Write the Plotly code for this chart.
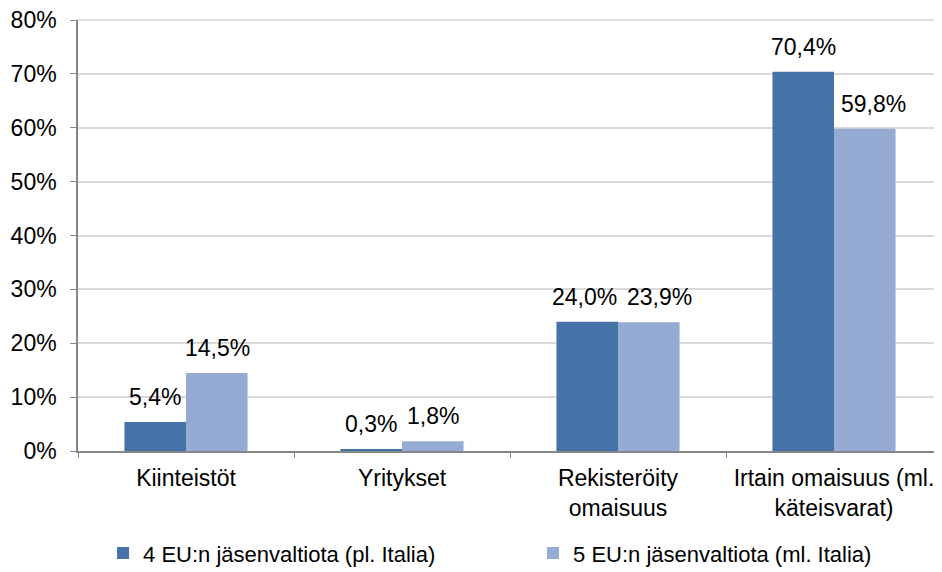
import plotly.graph_objects as go

categories = ["Kiinteistöt", "Yritykset", "Rekisteröity<br>omaisuus",
              "Irtain omaisuus (ml.<br>käteisvarat)"]
series_names = ["4 EU:n jäsenvaltiota (pl. Italia)", "5 EU:n jäsenvaltiota (ml. Italia)"]
values_4eu = [5.4, 0.3, 24.0, 70.4]
values_5eu = [14.5, 1.8, 23.9, 59.8]
y_ticks = [0, 10, 20, 30, 40, 50, 60, 70, 80]

COLORS = ["#4673A7", "#95ABD3"]
GRID = "#D9D9D9"
FONT = "Arial, 'Liberation Sans', sans-serif"
FS = 23
# (series, category) -> extra sideways nudge, so crowded labels don't collide
NUDGE = {(0, 2): -3, (1, 2): 10, (1, 3): 8}


def fmt(v):
    return f"{v:.1f}%".replace(".", ",")


fig = go.Figure()
for name, vals, col in zip(series_names, [values_4eu, values_5eu], COLORS):
    fig.add_trace(go.Bar(
        x=categories, y=vals, name=name,
        marker=dict(color=col, line=dict(width=0)),
        cliponaxis=False,
    ))

for s, (vals, shift) in enumerate([(values_4eu, -31), (values_5eu, 31)]):
    for c, (cat, v) in enumerate(zip(categories, vals)):
        fig.add_annotation(x=cat, y=v, text=fmt(v), showarrow=False,
                           xshift=shift + NUDGE.get((s, c), 0), yshift=10,
                           yanchor="bottom", font=dict(size=FS, color="#000000"))

# plotly drops the gridline on the top edge (80%), so draw it by hand, unclipped
# (layer "above": a paper shape "below" would be hidden by the plot background)
fig.add_shape(type="line", xref="paper", x0=0, x1=1, yref="paper", y0=1, y1=1,
              line=dict(color=GRID, width=1.5), layer="above")

# the page body has an 8px margin, so the figure is drawn 8px smaller
fig.update_layout(
    width=934, height=564,
    barmode="group", bargap=0.43, bargroupgap=0,
    margin=dict(l=70, r=0, t=12, b=121, autoexpand=False),
    paper_bgcolor="#FFFFFF", plot_bgcolor="#FFFFFF",
    font=dict(family=FONT, size=FS, color="#000000"),
    showlegend=True,
    legend=dict(orientation="h", x=0.029, xanchor="left", y=-0.237, yanchor="middle",
                font=dict(size=22), itemwidth=30, entrywidth=385,
                bgcolor="rgba(0,0,0,0)"),
    xaxis=dict(showline=True, linecolor="#868686", linewidth=1.5, automargin=False,
               ticks="outside", tickson="boundaries", ticklen=5, tickcolor="#868686",
               showgrid=False, ticklabelstandoff=6),
    yaxis=dict(range=[0, 80], tickvals=y_ticks, ticktext=[f"{t}%" for t in y_ticks],
               showline=True, linecolor="#868686", linewidth=1.5, automargin=False,
               ticks="outside", ticklen=6, tickcolor="#868686",
               gridcolor=GRID, gridwidth=1.5, zeroline=False,
               ticklabelstandoff=9, ticklabeloverflow="allow"),
)

fig.write_html("out.html")
